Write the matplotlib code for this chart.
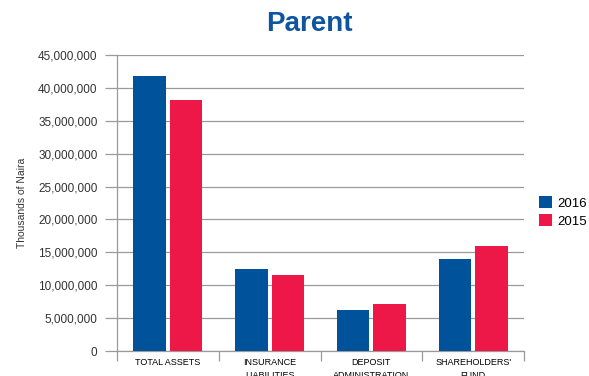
import matplotlib
matplotlib.use("Agg")
import matplotlib.pyplot as plt
from matplotlib import font_manager
from matplotlib.ticker import FuncFormatter
import numpy as np

categories = ["TOTAL ASSETS", "INSURANCE\nLIABILITIES", "DEPOSIT\nADMINISTRATION", "SHAREHOLDERS'\nFUND"]
years = ["2016", "2015"]
values_2016 = [41800000, 12500000, 6250000, 14000000]
values_2015 = [38200000, 11600000, 7150000, 15950000]

blue = "#00529b"
red = "#ee1848"
grey = "#9a9a9a"

names = {f.name for f in font_manager.fontManager.ttflist}
narrow = "Liberation Sans Narrow" if "Liberation Sans Narrow" in names else "Liberation Sans"
plt.rcParams["font.family"] = ["Liberation Sans", "DejaVu Sans"]

fig = plt.figure(figsize=(5.89, 3.76), dpi=100)
ax = fig.add_axes([117 / 589, 1 - 351 / 376, 407 / 589, 296 / 376])

x = np.arange(len(categories))
w = 0.32
b1 = ax.bar(x - 0.18, values_2016, w, color=blue, label=years[0], zorder=3)
b2 = ax.bar(x + 0.18, values_2015, w, color=red, label=years[1], zorder=3)

ax.set_xlim(-0.5, len(categories) - 0.5)
ax.set_ylim(0, 45000000)
ax.set_yticks(np.arange(0, 45000001, 5000000))
ax.yaxis.set_major_formatter(FuncFormatter(lambda v, p: f"{int(v):,}"))
ax.grid(axis="y", color=grey, linewidth=0.9, zorder=0)
ax.tick_params(axis="y", length=9, width=0.9, color=grey, pad=5, labelsize=8.5, labelcolor="#333333")

ax.set_xticks(x)
ax.set_xticklabels(categories, fontsize=6.5, family=narrow, linespacing=1.6, va="top")
ax.set_xticks(np.arange(-0.5, len(categories), 1), minor=True)
ax.tick_params(axis="x", which="major", length=0, pad=5)
ax.tick_params(axis="x", which="minor", length=7, width=0.9, color=grey)

for s in ["top", "right"]:
    ax.spines[s].set_visible(False)
for s in ["left", "bottom"]:
    ax.spines[s].set_color(grey)
    ax.spines[s].set_linewidth(0.9)

ax.set_ylabel("Thousands of Naira", fontsize=7.5, color="#333333", labelpad=8)

fig.text(309 / 589, 1 - 24 / 376, "Parent", ha="center", va="center",
         fontsize=20, fontweight="bold", color="#0e55a0")

fig.legend(handles=[b1, b2], labels=years, loc="center left",
           bbox_to_anchor=(527 / 589, 1 - 212 / 376), frameon=False,
           fontsize=9.5, handlelength=1.0, handleheight=1.0,
           handletextpad=0.4, labelspacing=0.35)

plt.savefig("out.png", dpi=100)
